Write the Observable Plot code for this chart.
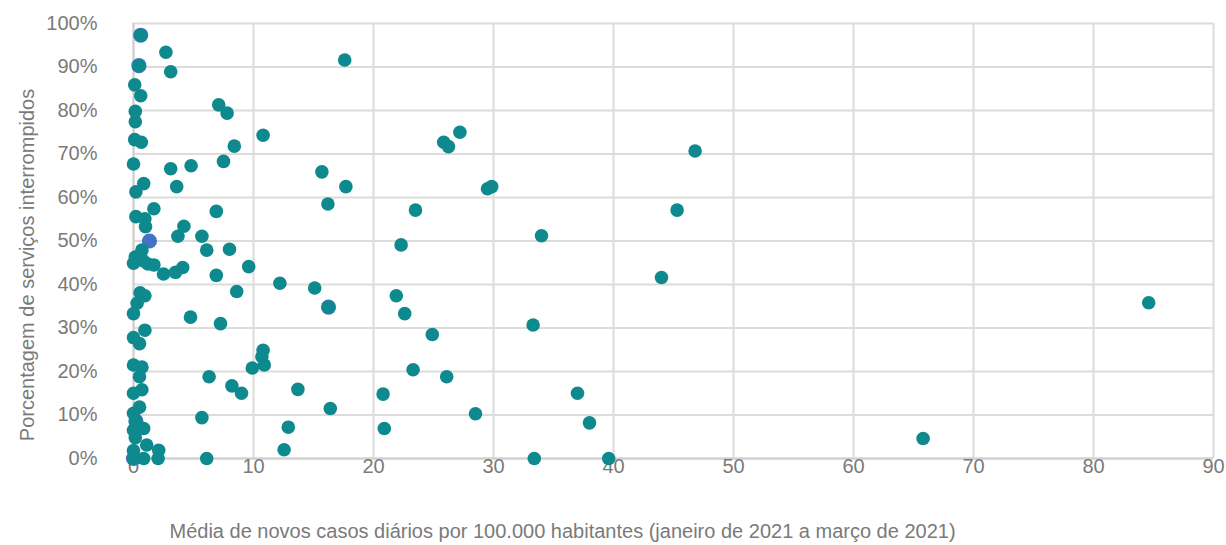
<!DOCTYPE html>
<html>
<head>
<meta charset="utf-8">
<script src="https://cdn.jsdelivr.net/npm/d3@7"></script>
<script src="https://cdn.jsdelivr.net/npm/@observablehq/plot@0.6"></script>
<style>
  html, body { margin: 0; padding: 0; background: #fff; }
</style>
</head>
<body>
<div id="chart"></div>
<script>
const xTitle = "Média de novos casos diários por 100.000 habitantes (janeiro de 2021 a março de 2021)";
const yTitle = "Porcentagem de serviços interrompidos";
const xTicks = [0, 10, 20, 30, 40, 50, 60, 70, 80, 90];
const yTicks = [0, 10, 20, 30, 40, 50, 60, 70, 80, 90, 100];

// Main series (teal): [casos por 100.000, % serviços interrompidos]
const tealPoints = [
  [0.6, 97.3], [2.7, 93.4], [0.45, 90.3], [3.1, 88.9], [17.6, 91.6],
  [0.1, 85.9], [0.6, 83.4], [0.15, 79.8], [0.15, 77.4], [7.1, 81.3], [7.8, 79.4],
  [10.8, 74.3], [0.1, 73.3], [0.65, 72.7], [8.4, 71.8], [25.85, 72.7], [26.25, 71.7],
  [27.2, 75.0], [46.8, 70.7], [0, 67.7], [3.1, 66.6], [4.8, 67.3], [7.5, 68.3],
  [15.7, 65.9], [0.85, 63.2], [0.2, 61.3], [3.6, 62.5], [17.7, 62.5], [29.5, 62.0],
  [29.85, 62.5], [1.7, 57.4], [6.9, 56.8], [16.2, 58.5], [23.5, 57.1], [45.3, 57.1],
  [0.2, 55.6], [0.95, 55.1], [1.0, 53.3], [4.2, 53.4], [3.7, 51.1], [5.7, 51.1],
  [34.0, 51.2], [22.3, 49.1], [6.1, 47.9], [8.0, 48.1], [0.7, 47.9], [0.15, 46.3],
  [0.8, 45.5], [0, 44.9], [1.2, 44.7], [1.7, 44.5], [2.5, 42.4], [3.5, 42.8],
  [4.1, 43.9], [6.9, 42.1], [9.6, 44.1], [44.0, 41.6], [12.2, 40.3], [15.1, 39.2],
  [8.6, 38.4], [0.55, 38.1], [0.95, 37.4], [21.9, 37.4], [0.3, 35.7], [16.25, 34.8],
  [84.6, 35.8], [0, 33.3], [22.6, 33.3], [4.75, 32.5], [7.25, 31.0], [33.3, 30.7],
  [0.95, 29.5], [24.9, 28.5], [0, 27.8], [0.5, 26.4], [10.8, 24.9], [10.7, 23.4],
  [10.9, 21.5], [9.9, 20.8], [23.3, 20.4], [0, 21.5], [0.7, 21.0], [0.5, 18.8],
  [6.3, 18.8], [26.1, 18.8], [8.2, 16.7], [13.7, 15.9], [9.0, 15.0], [20.8, 14.8],
  [37.0, 15.0], [0, 15.0], [0.7, 15.8], [0.5, 11.8], [0, 10.4], [16.4, 11.5],
  [28.5, 10.3], [5.7, 9.4], [38.0, 8.2], [0.2, 8.6], [0.85, 6.9], [0, 6.5],
  [12.9, 7.2], [20.9, 6.9], [0.15, 4.8], [65.8, 4.6], [1.1, 3.1], [2.1, 1.9],
  [0, 1.8], [12.55, 2.0], [0, 0], [0.85, 0], [2.05, 0], [6.1, 0], [33.4, 0], [39.6, 0]
];

// Secondary series (blue), partly hidden under the teal points
const bluePoints = [
  [0.6, 97.3], [0.45, 90.3], [1.33, 50.0], [0, 0], [0.2, 8.6], [16.25, 34.8]
];

const gray = "#7a7a7a";
const chart = Plot.plot({
  width: 1226,
  height: 545,
  marginLeft: 133,
  marginRight: 13,
  marginTop: 23,
  marginBottom: 87,
  style: { fontFamily: "'Liberation Sans', Arial, sans-serif", fontSize: "20px", color: gray, background: "#fff" },
  x: { domain: [0, 90] },
  y: { domain: [0, 100] },
  marks: [
    Plot.gridX(xTicks, { stroke: "#dcdcdc", strokeOpacity: 1, strokeWidth: 2 }),
    Plot.gridY(yTicks, { stroke: "#dcdcdc", strokeOpacity: 1, strokeWidth: 2 }),
    Plot.ruleX([0], { stroke: "#d0d0d0", strokeWidth: 2 }),
    Plot.ruleY([0], { stroke: "#d0d0d0", strokeWidth: 2 }),
    Plot.axisX(xTicks, { tickSize: 0, tickPadding: 0, label: null, fontSize: 20, fill: gray }),
    Plot.axisY(yTicks, { tickSize: 0, tickPadding: 36, label: null, fontSize: 20, fill: gray, tickFormat: d => d + "%" }),
    Plot.dot(bluePoints, { x: d => d[0], y: d => d[1], r: 7.6, fill: "#4472C4", stroke: "none" }),
    Plot.dot(tealPoints, { x: d => d[0], y: d => d[1], r: 6.8, fill: "#0e8a8f", stroke: "none" }),
    Plot.text([xTitle], { text: d => d, frameAnchor: "bottom-left", textAnchor: "start", dx: 36, dy: 79, fontSize: 20, fill: gray }),
    Plot.text([yTitle], { text: d => d, frameAnchor: "left", textAnchor: "middle", lineAnchor: "middle", rotate: -90, dx: -106, dy: 24, fontSize: 20, fill: gray })
  ]
});
document.getElementById("chart").appendChild(chart);
</script>
</body>
</html>
